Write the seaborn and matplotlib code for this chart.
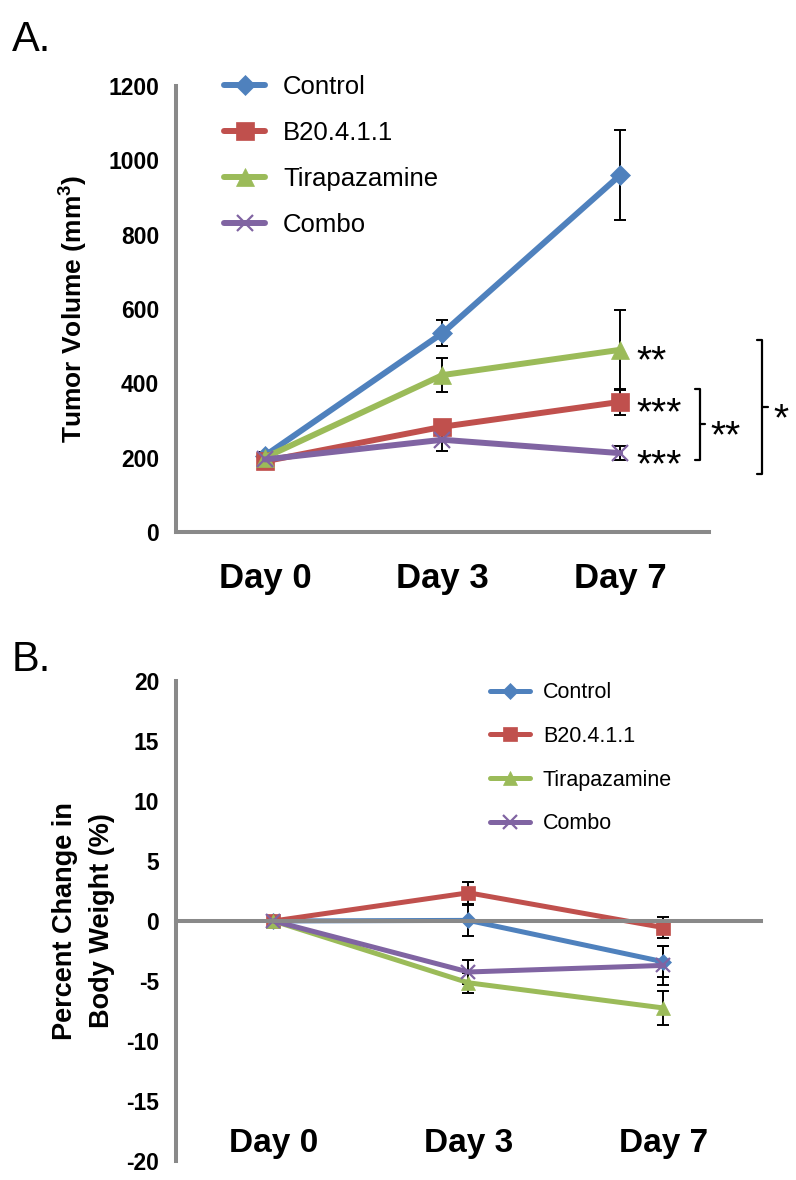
import matplotlib
matplotlib.use("Agg")
import matplotlib.pyplot as plt
import matplotlib.transforms as mtransforms
import seaborn as sns

# data
days = ["Day 0", "Day 3", "Day 7"]
groups = ["Control", "B20.4.1.1", "Tirapazamine", "Combo"]

# panel A: tumor volume (mm3), mean and error
vol_control = [205, 535, 960]
vol_b20 = [190, 283, 350]
vol_tira = [200, 422, 490]
vol_combo = [195, 248, 212]
vol_err_control = [10, 35, 122]
vol_err_b20 = [8, 18, 35]
vol_err_tira = [8, 45, 107]
vol_err_combo = [8, 30, 18]

# panel B: percent change in body weight
bw_control = [0, 0.05, -3.4]
bw_b20 = [0, 2.35, -0.55]
bw_tira = [0, -5.15, -7.25]
bw_combo = [0, -4.25, -3.7]
bw_err_control = [0, 1.3, 1.3]
bw_err_b20 = [0, 0.9, 0.9]
bw_err_tira = [0, 0.85, 1.4]
bw_err_combo = [0, 1.0, 1.6]

colors = ["#4F81BD", "#C0504D", "#9BBB59", "#8064A2"]
markers = ["D", "s", "^", "x"]
msize_a = [10, 12.5, 12.5, 12]
msize_b = [8.5, 10.5, 10.5, 10]

sns.set_style("white")
plt.rcParams["font.family"] = ["Liberation Sans", "DejaVu Sans"]
plt.rcParams["text.color"] = "black"
plt.rcParams["axes.labelcolor"] = "black"
plt.rcParams["axes.unicode_minus"] = False
gray = "#898989"

fig = plt.figure(figsize=(7.96, 11.80), dpi=100)
axA = fig.add_axes([0.2211, 0.5492, 0.6696, 0.3780])
axB = fig.add_axes([0.2211, 0.0161, 0.7349, 0.4068])


def draw_series(ax, series, errs, msizes, lw):
    for name, vals, err, c, m, ms in zip(groups, series, errs, colors, markers, msizes):
        ax.errorbar(days, vals, yerr=err, fmt="none", ecolor="black",
                    elinewidth=1.4, capsize=4.5, capthick=1.4, zorder=1.5)
        sns.lineplot(x=days, y=vals, ax=ax, color=c, marker=m, markersize=ms,
                     linewidth=lw, label=name, zorder=2,
                     markeredgecolor=c,
                     markeredgewidth=1.6 if m == "x" else 0.5)


def style_axis(ax):
    for side in ["top", "right"]:
        ax.spines[side].set_visible(False)
    for side in ["left", "bottom"]:
        ax.spines[side].set_color(gray)
        ax.spines[side].set_linewidth(2.9)
    ax.set_xlim(-0.5, 2.5)
    ax.set_xticks([0.5, 1.5, 2.5], minor=True)
    ax.tick_params(axis="x", which="major", length=0, labelcolor="black")
    ax.tick_params(axis="x", which="minor", length=6, width=2.9, color=gray,
                   direction="out")
    ax.tick_params(axis="y", length=6, width=2.9, color=gray, direction="out",
                   labelsize=16.5, pad=6, labelcolor="black")
    for lab in ax.get_yticklabels():
        lab.set_fontweight("bold")
    ax.set_xlabel("")


def stars(ax, x, y, s, size=28):
    # asterisks sit high in the glyph box, so drop the baseline a bit
    tr = mtransforms.offset_copy(ax.transData, fig=fig, y=-0.59 * size,
                                 units="points")
    ax.text(x, y, s, fontsize=size, va="baseline", ha="left",
            transform=tr, clip_on=False)


# ---- panel A ----
draw_series(axA, [vol_control, vol_b20, vol_tira, vol_combo],
            [vol_err_control, vol_err_b20, vol_err_tira, vol_err_combo],
            msize_a, 4.3)
axA.set_ylim(0, 1200)
axA.set_yticks(range(0, 1201, 200))
style_axis(axA)
axA.tick_params(axis="x", which="major", labelsize=25, pad=22)
for lab in axA.get_xticklabels():
    lab.set_fontweight("bold")
axA.set_ylabel("Tumor Volume (mm$^\\mathregular{3}$)", fontsize=19,
               fontweight="bold", labelpad=14)
axA.legend(loc="upper left", bbox_to_anchor=(0.09, 1.025), frameon=False,
           fontsize=18.5, handlelength=1.6, handletextpad=0.7,
           labelspacing=0.86, borderaxespad=0, borderpad=0)

# significance marks
stars(axA, 2.09, vol_tira[2], "**")
stars(axA, 2.09, vol_b20[2], "***")
stars(axA, 2.09, vol_combo[2], "***")
br_kw = dict(color="black", lw=1.6, clip_on=False)
axA.plot([2.42, 2.45, 2.45, 2.42], [385, 385, 194, 194], **br_kw)
axA.plot([2.45, 2.48], [290, 290], **br_kw)
stars(axA, 2.51, 290, "**")
axA.plot([2.77, 2.80, 2.80, 2.77], [517, 517, 156, 156], **br_kw)
axA.plot([2.80, 2.83], [336, 336], **br_kw)
stars(axA, 2.86, 336, "*")

# ---- panel B ----
draw_series(axB, [bw_control, bw_b20, bw_tira, bw_combo],
            [bw_err_control, bw_err_b20, bw_err_tira, bw_err_combo],
            msize_b, 3.6)
axB.set_ylim(-20, 20)
axB.set_yticks(range(-20, 21, 5))
style_axis(axB)
axB.spines["bottom"].set_position(("data", 0))
axB.tick_params(axis="x", which="major", labelsize=24, pad=149)
for lab in axB.get_xticklabels():
    lab.set_fontweight("bold")
axB.set_ylabel("Percent Change in\nBody Weight (%)", fontsize=19.5,
               fontweight="bold", labelpad=8, linespacing=1.55)
axB.legend(loc="upper left", bbox_to_anchor=(0.537, 0.997), frameon=False,
           fontsize=15.5, handlelength=1.85, handletextpad=0.6,
           labelspacing=1.05, borderaxespad=0, borderpad=0)

fig.text(0.015, 0.966, "A.", fontsize=30, va="center")
fig.text(0.015, 0.441, "B.", fontsize=30, va="center")

fig.savefig("out.png", dpi=100)
